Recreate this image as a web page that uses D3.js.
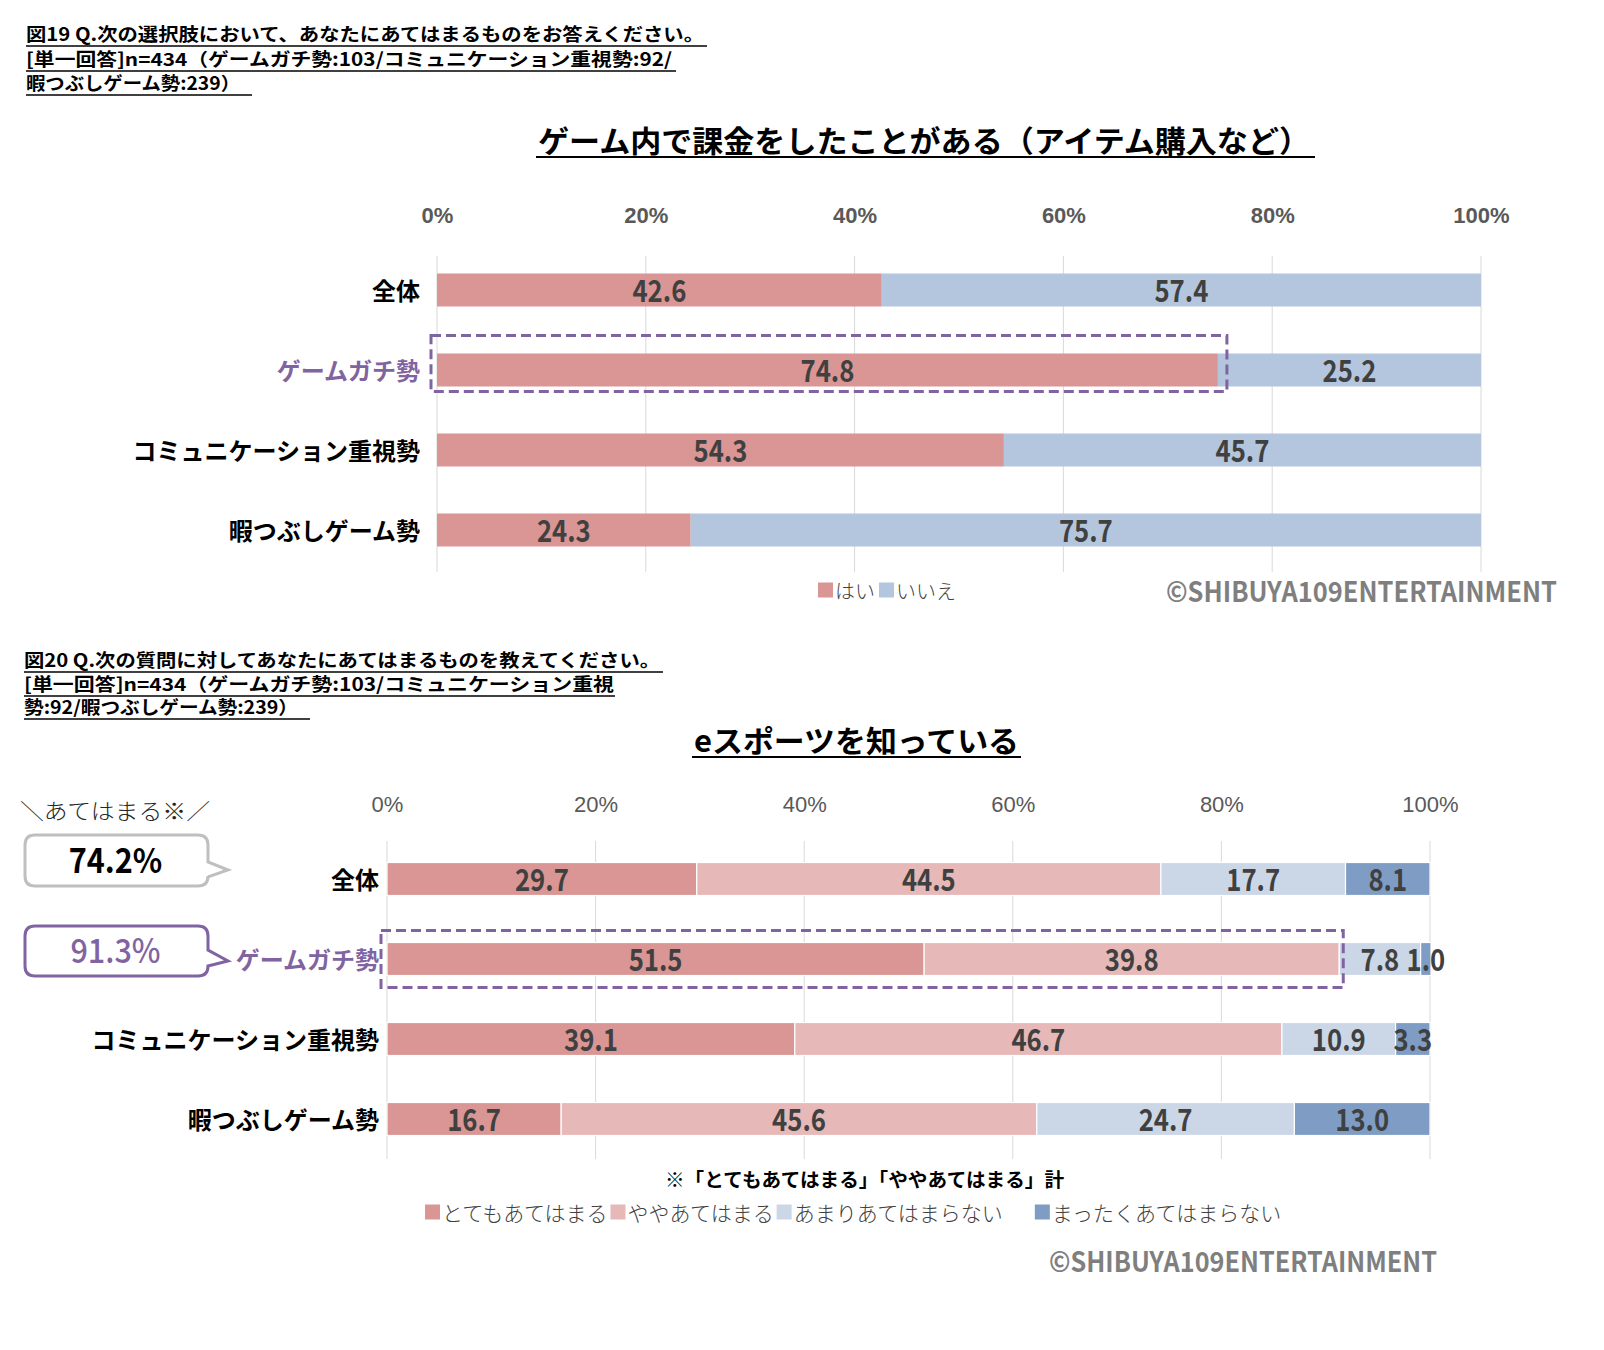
<!DOCTYPE html>
<html><head><meta charset="utf-8">
<script src="https://cdn.jsdelivr.net/npm/d3@7"></script>
<style>
body{margin:0;background:#fff;}
svg{display:block;font-family:"Noto Sans CJK JP","Noto Sans",sans-serif;}
</style></head><body>
<svg id="c" width="1604" height="1350"></svg>
<script>
// ---------- data ----------
const categories = ["全体", "ゲームガチ勢", "コミュニケーション重視勢", "暇つぶしゲーム勢"];
const highlightCategory = "ゲームガチ勢";
const xTicks = [0, 20, 40, 60, 80, 100];

const fig19Series = ["はい", "いいえ"];
const fig19Yes = [42.6, 74.8, 54.3, 24.3];
const fig19No  = [57.4, 25.2, 45.7, 75.7];

const fig20Series = ["とてもあてはまる", "ややあてはまる", "あまりあてはまらない", "まったくあてはまらない"];
const fig20Very     = [29.7, 51.5, 39.1, 16.7];
const fig20Somewhat = [44.5, 39.8, 46.7, 45.6];
const fig20NotMuch  = [17.7, 7.8, 10.9, 24.7];
const fig20NotAtAll = [8.1, 1.0, 3.3, 13.0];

const fig19Subtitle = ["図19 Q.次の選択肢において、あなたにあてはまるものをお答えください。",
                       "[単一回答]n=434（ゲームガチ勢:103/コミュニケーション重視勢:92/",
                       "暇つぶしゲーム勢:239）"];
const fig19Title = "ゲーム内で課金をしたことがある（アイテム購入など）";
const fig20Subtitle = ["図20 Q.次の質問に対してあなたにあてはまるものを教えてください。",
                       "[単一回答]n=434（ゲームガチ勢:103/コミュニケーション重視",
                       "勢:92/暇つぶしゲーム勢:239）"];
const fig20Title = "eスポーツを知っている";
const calloutHeader = "＼あてはまる※／";
const footnote = "※「とてもあてはまる」「ややあてはまる」計";
const copyright = "©SHIBUYA109ENTERTAINMENT";

// ---------- styles ----------
const PURPLE = "#8064a2";
const fig19Colors = ["#d99694", "#b3c6dd"];
const fig20Colors = ["#d99694", "#e6b8b7", "#cbd7e7", "#7f9dc4"];
const fmt = d3.format(".1f");

const svg = d3.select("#c");

function subtitle(lines, x, baselines, textLens, ulEnds) {
  const g = svg.append("g");
  lines.forEach((t, i) => {
    g.append("text").attr("x", x).attr("y", baselines[i])
      .attr("font-size", 18).attr("font-weight", 700).attr("fill", "#000")
      .attr("textLength", textLens[i]).attr("lengthAdjust", "spacingAndGlyphs").text(t);
    g.append("line").attr("x1", x).attr("x2", ulEnds[i])
      .attr("y1", baselines[i] + 5).attr("y2", baselines[i] + 5)
      .attr("stroke", "#000").attr("stroke-width", 1.6);
  });
}

function title(t, x, baseline, len, ulX0, ulX1) {
  svg.append("text").attr("x", x).attr("y", baseline)
    .attr("font-size", 30).attr("font-weight", 700).attr("fill", "#000")
    .attr("textLength", len).attr("lengthAdjust", "spacingAndGlyphs").text(t);
  svg.append("line").attr("x1", ulX0).attr("x2", ulX1)
    .attr("y1", baseline + 5).attr("y2", baseline + 5)
    .attr("stroke", "#000").attr("stroke-width", 2.2);
}

function legend(names, colors, x, yc, size, gaps) {
  const g = svg.append("g");
  let cx = x;
  names.forEach((n, i) => {
    g.append("rect").attr("x", cx).attr("y", yc - 7.5).attr("width", 15).attr("height", 15).attr("fill", colors[i]);
    const t = g.append("text").attr("x", cx + 17).attr("y", yc).attr("dominant-baseline", "central")
      .attr("font-size", size).attr("font-weight", 300).attr("fill", "#404040").text(n);
    cx += 17 + t.node().getComputedTextLength() + (gaps[i] || 3);
  });
}

function drawChart(o) {
  const g = svg.append("g");
  const x = d3.scaleLinear().domain([0, 100]).range(o.xRange);
  const y = d3.scaleBand().domain(categories).range(o.yRange)
    .paddingInner(0.5875).paddingOuter(0.29375);
  const rows = categories.map((c, i) => {
    const r = { cat: c };
    o.names.forEach((n, k) => r[n] = o.values[k][i]);
    return r;
  });
  const stacked = d3.stack().keys(o.names)(rows);

  // gridlines
  g.append("g").selectAll("line").data(xTicks).join("line")
    .attr("x1", d => x(d)).attr("x2", d => x(d))
    .attr("y1", o.grid[0]).attr("y2", o.grid[1])
    .attr("stroke", "#d9d9d9").attr("stroke-width", 1);

  // top axis labels
  const ax = g.append("g").attr("transform", `translate(0,${o.tickY})`)
    .call(d3.axisTop(x).tickValues(xTicks).tickFormat(d => d + "%").tickSize(0).tickPadding(0));
  ax.select(".domain").remove();
  ax.selectAll("text").attr("font-family", null).attr("font-size", 22)
    .attr("font-weight", o.tickWeight).attr("fill", "#595959")
    .attr("dy", null).attr("y", 0).attr("dominant-baseline", "central");

  // bars
  stacked.forEach((layer, k) => {
    g.append("g").selectAll("rect").data(layer).join("rect")
      .attr("x", d => x(d[0])).attr("width", d => x(d[1]) - x(d[0]))
      .attr("y", d => y(d.data.cat)).attr("height", y.bandwidth())
      .attr("fill", o.colors[k])
      .attr("stroke", o.barStroke || "none").attr("stroke-width", 1.2);
  });
  // value labels (condensed look)
  stacked.forEach((layer, k) => {
    g.append("g").selectAll("text").data(layer).join("text")
      .attr("transform", d => `translate(${(x(d[0]) + x(d[1])) / 2},${y(d.data.cat) + y.bandwidth() / 2 - 2}) scale(0.83,1)`)
      .attr("text-anchor", "middle").attr("dominant-baseline", "central")
      .attr("font-size", 31).attr("font-weight", 700).attr("fill", "#404040")
      .text(d => fmt(d[1] - d[0]));
  });

  // category labels
  g.append("g").selectAll("text").data(categories).join("text")
    .attr("x", o.labelX).attr("y", d => y(d) + y.bandwidth() / 2 - 1)
    .attr("text-anchor", "end").attr("dominant-baseline", "central")
    .attr("font-size", 24).attr("font-weight", 700)
    .attr("fill", d => d === highlightCategory ? PURPLE : "#000")
    .text(d => d);

  // highlight dashed box
  const hi = rows.find(r => r.cat === highlightCategory);
  const hiSum = o.highlightKeys.reduce((s, k) => s + hi[k], 0);
  g.append("rect")
    .attr("x", x(0) - 6).attr("width", x(hiSum) + o.boxPad[1] - (x(0) - 6))
    .attr("y", y(highlightCategory) - o.boxPad[0])
    .attr("height", y.bandwidth() + o.boxPad[0] + o.boxPad[2])
    .attr("fill", "none").attr("stroke", PURPLE).attr("stroke-width", 3)
    .attr("stroke-dasharray", "10,5");
  return { x, y, rows };
}

// ---------- Figure 19 ----------
subtitle(fig19Subtitle, 26, [41, 66, 90], [678, 646, 214], [707, 676, 252]);
title(fig19Title, 538, 152, 772, 536, 1315);
drawChart({
  names: fig19Series, values: [fig19Yes, fig19No], colors: fig19Colors,
  xRange: [437, 1481], yRange: [250, 570], grid: [256, 572], tickY: 215,
  tickWeight: 700, labelX: 420, highlightKeys: ["はい"], boxPad: [18, 9, 5]
});
legend(fig19Series, fig19Colors, 818, 590, 20, [4, 3]);
svg.append("text").attr("x", 1166).attr("y", 590).attr("dominant-baseline", "central")
  .attr("font-size", 28).attr("font-weight", 700).attr("fill", "#7f7f7f")
  .attr("textLength", 391).attr("lengthAdjust", "spacingAndGlyphs").text(copyright);

// ---------- Figure 20 ----------
subtitle(fig20Subtitle, 24, [667, 691, 714], [636, 590, 274], [663, 615, 310]);
title(fig20Title, 694, 752, 325, 692, 1021);
const c20 = drawChart({
  names: fig20Series, values: [fig20Very, fig20Somewhat, fig20NotMuch, fig20NotAtAll],
  colors: fig20Colors, barStroke: "#fff",
  xRange: [387, 1430], yRange: [839, 1159], grid: [841, 1159], tickY: 804,
  tickWeight: 300, labelX: 379, highlightKeys: ["とてもあてはまる", "ややあてはまる"], boxPad: [12, 4, 12]
});
svg.append("text").attr("x", 665).attr("y", 1178).attr("dominant-baseline", "central")
  .attr("font-size", 19).attr("font-weight", 700).attr("fill", "#000")
  .attr("textLength", 399).attr("lengthAdjust", "spacingAndGlyphs").text(footnote);
legend(fig20Series, fig20Colors, 425, 1212, 21, [3, 3, 32]);
svg.append("text").attr("x", 1049).attr("y", 1260).attr("dominant-baseline", "central")
  .attr("font-size", 28).attr("font-weight", 700).attr("fill", "#7f7f7f")
  .attr("textLength", 388).attr("lengthAdjust", "spacingAndGlyphs").text(copyright);

// ---------- callouts ----------
svg.append("text").attr("x", 20).attr("y", 809).attr("dominant-baseline", "central")
  .attr("font-size", 22).attr("font-weight", 300).attr("fill", "#262626")
  .attr("textLength", 190).attr("lengthAdjust", "spacingAndGlyphs").text(calloutHeader);

function calloutPath(x0, y0, x1, y1, r, p0, tx, ty, p1) {
  return `M${x0 + r},${y0} H${x1 - r} Q${x1},${y0} ${x1},${y0 + r} V${p0} L${tx},${ty} L${x1},${p1}` +
         ` V${y1 - r} Q${x1},${y1} ${x1 - r},${y1} H${x0 + r} Q${x0},${y1} ${x0},${y1 - r} V${y0 + r} Q${x0},${y0} ${x0 + r},${y0} Z`;
}
const callouts = [
  { cat: "全体", stroke: "#bfbfbf", color: "#000", weight: 700, box: [25, 835, 208, 886], p: [862, 228, 870, 877] },
  { cat: "ゲームガチ勢", stroke: PURPLE, color: PURPLE, weight: 500, box: [25, 926, 208, 976], p: [950, 228, 961, 966] }
];
callouts.forEach(c => {
  const r = c20.rows.find(d => d.cat === c.cat);
  const v = r["とてもあてはまる"] + r["ややあてはまる"];
  const [x0, y0, x1, y1] = c.box;
  svg.append("path").attr("d", calloutPath(x0, y0, x1, y1, 10, c.p[0], c.p[1], c.p[2], c.p[3]))
    .attr("fill", "#fff").attr("stroke", c.stroke).attr("stroke-width", 3);
  svg.append("text")
    .attr("transform", `translate(${(x0 + x1) / 2 - 1},${(y0 + y1) / 2 - 3}) scale(0.9,1)`)
    .attr("text-anchor", "middle").attr("dominant-baseline", "central")
    .attr("font-size", 34).attr("font-weight", c.weight).attr("fill", c.color)
    .text(fmt(v) + "%");
});
</script>
</body></html>
